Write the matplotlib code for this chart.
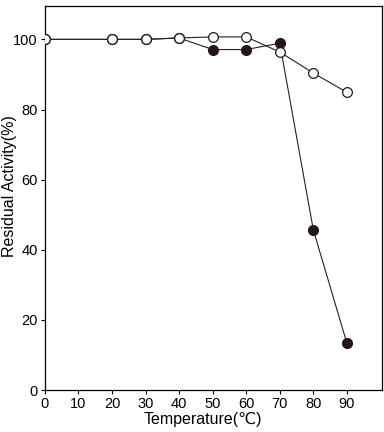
import matplotlib
matplotlib.use("Agg")
import matplotlib.pyplot as plt

plt.rcParams['font.family'] = ['Liberation Sans', 'DejaVu Sans']

# temperatures (C)
temps = [0, 20, 30, 40, 50, 60, 70, 80, 90]
# residual activity (%)
open_vals = [100.0, 100.0, 100.0, 100.4, 100.7, 100.7, 96.4, 90.4, 84.9]
filled_vals = [100.0, 100.0, 100.0, 100.4, 97.1, 97.1, 98.9, 45.7, 13.4]

x_ticks = [0, 10, 20, 30, 40, 50, 60, 70, 80, 90]
y_ticks = [0, 20, 40, 60, 80, 100]

fig = plt.figure(figsize=(3.84, 4.32), dpi=100)
ax = fig.add_axes([0.117, 0.097, 0.878, 0.889])

ax.plot(temps, filled_vals, color='#222222', lw=0.8, marker='o', ms=7,
        markerfacecolor='#231815', markeredgecolor='#231815', zorder=2)
ax.plot(temps, open_vals, color='#222222', lw=0.8, marker='o', ms=7,
        markerfacecolor='white', markeredgecolor='#231815', markeredgewidth=0.9, zorder=3)

ax.set_xlim(0, 100.5)
ax.set_ylim(0, 109.5)
ax.set_xticks(x_ticks)
ax.set_yticks(y_ticks)
ax.tick_params(direction='out', length=3, width=0.8, labelsize=10.5, pad=2)
for s in ax.spines.values():
    s.set_linewidth(0.9)
    s.set_clip_on(False)

ax.set_xlabel('Temperature(\u2103)', fontsize=11.5, va='center')
ax.xaxis.set_label_coords(0.469, -0.077)
ax.set_ylabel('Residual Activity(%)', fontsize=11.5, va='center')
ax.yaxis.set_label_coords(-0.105, 0.53)

fig.savefig('out.png', dpi=100)
